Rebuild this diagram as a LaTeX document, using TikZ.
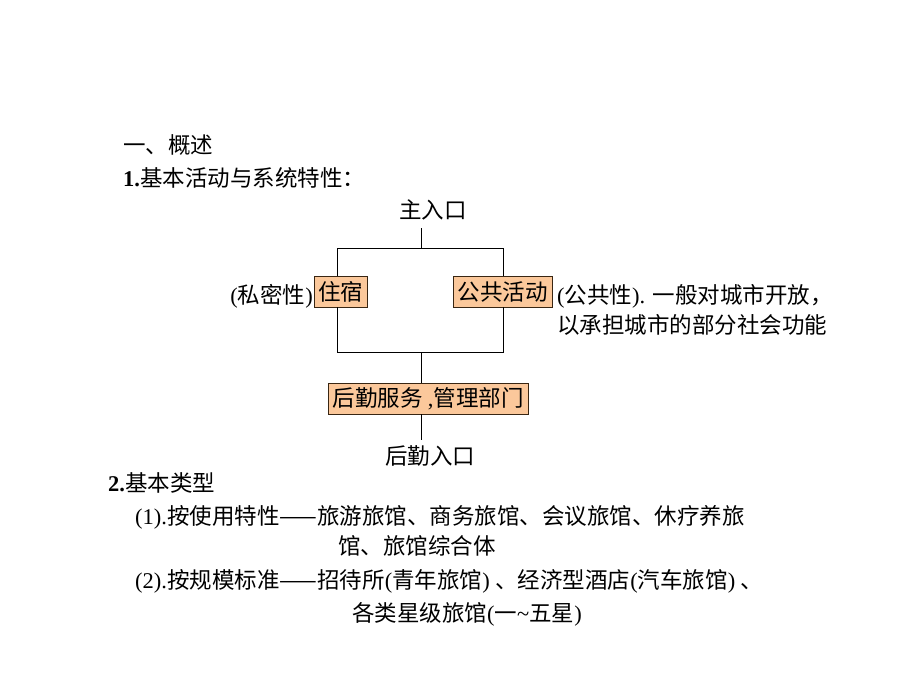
\documentclass[tikz,border=0pt]{standalone}
\usepackage{fontspec}
\setmainfont{Liberation Serif}
\newfontfamily\cjk{Noto Sans CJK SC}
\begin{document}
\begin{tikzpicture}[x=1pt,y=-1pt,
  t/.style={anchor=base west,inner sep=0pt,font=\fontsize{22.5}{26}\selectfont},
  tc/.style={anchor=base,inner sep=0pt,font=\fontsize{22.5}{26}\selectfont},
  box/.style={draw=black!70!brown,fill={rgb,255:red,251;green,200;blue,155},inner sep=0pt,anchor=north west,font=\fontsize{22.5}{26}\selectfont},
  ln/.style={line width=0.8pt}]
\useasboundingbox (0,0) rectangle (920,690);
\node[t] (a) at (123,153) {\cjk 一、概述};
\node[t] (b) at (123,186) {\textbf{1.}\cjk 基本活动与系统特性：};
\node[tc] (main) at (433,218) {\cjk 主入口};
\node[box,minimum width=53,minimum height=31] (zs) at (314,276) {\cjk 住宿};
\node[box,minimum width=99,minimum height=31] (gg) at (453,276) {\cjk 公共活动};
\node[box,minimum width=200,minimum height=31] (hq) at (328,383) {\cjk 后勤服务 \rmfamily,\cjk 管理部门};
\node[t,anchor=base east] (sm) at (313,303) {(\cjk 私密性\rmfamily)};
\node[t] (gx1) at (557,303) {(\cjk 公共性\rmfamily). \cjk 一般对城市开放，};
\node[t] (gx2) at (557,333) {\cjk 以承担城市的部分社会功能};
\node[tc] (hr) at (430,464) {\cjk 后勤入口};
\node[t] (c) at (108,491) {\textbf{2.}\cjk 基本类型};
\node[t] (d1) at (135,524) {(1).\cjk 按使用特性——旅游旅馆、商务旅馆、会议旅馆、休疗养旅};
\node[t] (d2) at (338,554) {\cjk 馆、旅馆综合体};
\node[t] (e1) at (135,588) {(2).\cjk 按规模标准——招待所\rmfamily(\cjk 青年旅馆\rmfamily) \cjk 、经济型酒店\rmfamily(\cjk 汽车旅馆\rmfamily) \cjk 、};
\node[t] (e2) at (352,621) {\cjk 各类星级旅馆\rmfamily(\cjk 一\rmfamily\textasciitilde\cjk 五星\rmfamily)};
\coordinate (top) at (421,228);
\coordinate (j1) at (421,248);
\coordinate (l1) at (337,248);
\coordinate (r1) at (503,248);
\coordinate (l2) at (337,352);
\coordinate (r2) at (503,352);
\coordinate (j2) at (421,352);
\coordinate (bot) at (421,440);
\draw[ln] (top) -- (j1);
\draw[ln] (l1) -- (r1);
\draw[ln] (l1) -- (zs.north -| l1);
\draw[ln] (r1) -- (gg.north -| r1);
\draw[ln] (zs.south -| l2) -- (l2) -- (r2) -- (gg.south -| r2);
\draw[ln] (j2) -- (hq.north -| j2);
\draw[ln] (hq.south -| bot) -- (bot);
\end{tikzpicture}
\end{document}
